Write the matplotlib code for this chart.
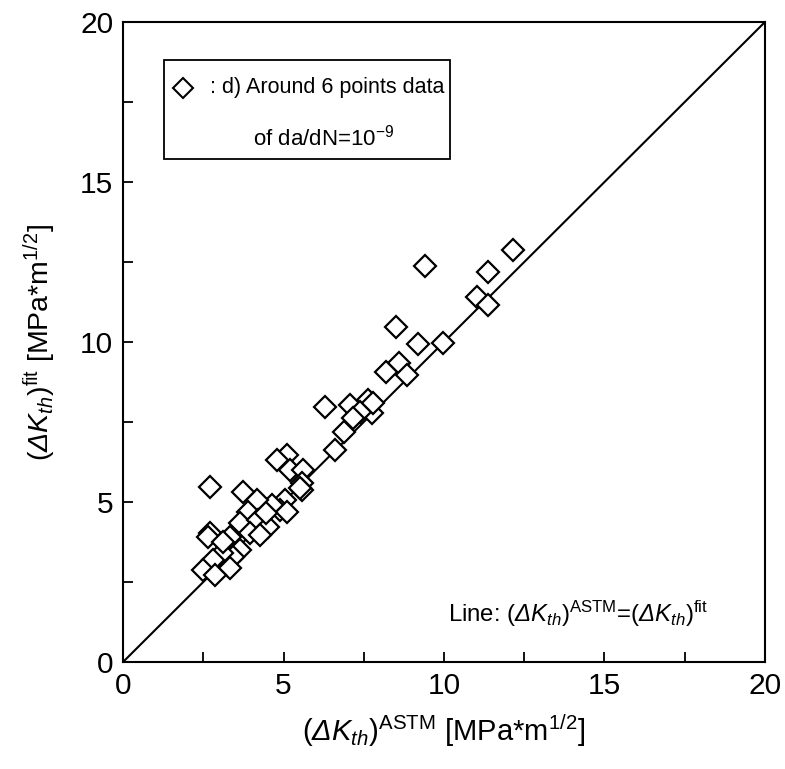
import matplotlib
matplotlib.use("Agg")
import matplotlib.pyplot as plt
from matplotlib.patches import Rectangle

plt.rcParams['font.family'] = ['Liberation Sans', 'DejaVu Sans']
plt.rcParams['mathtext.fontset'] = 'custom'
plt.rcParams['mathtext.rm'] = 'Liberation Sans'
plt.rcParams['mathtext.it'] = 'Liberation Sans:italic'
# sans-serif math slot used for the italic Greek delta
plt.rcParams['mathtext.sf'] = 'Liberation Sans:italic'
plt.rcParams['mathtext.bf'] = 'Liberation Sans:bold'

# Threshold stress intensity ranges [MPa*m^1/2]
dk_astm = [12.15, 11.37, 11.03, 11.37, 9.41, 9.97, 9.19, 8.50, 8.60, 8.85,
           8.19, 7.76, 7.63, 7.07, 7.38, 6.29, 7.17, 6.88, 6.60, 7.80,
           5.11, 4.80, 5.20, 5.60, 5.58, 5.58, 5.05, 4.89, 4.64, 4.17,
           3.74, 2.71, 3.89, 3.64, 4.20, 4.52, 3.96, 4.27, 2.71, 2.65,
           3.33, 3.64, 3.43, 3.08, 2.80, 2.49, 3.33, 2.87, 5.51, 5.11,
           4.45, 3.10]
dk_fit = [12.88, 12.19, 11.41, 11.16, 12.38, 9.97, 9.94, 10.47, 9.34, 8.97,
          9.06, 7.78, 8.19, 8.03, 7.81, 7.97, 7.62, 7.19, 6.63, 8.10,
          6.47, 6.31, 6.00, 6.00, 5.59, 5.37, 5.06, 4.75, 4.90, 5.06,
          5.31, 5.47, 4.69, 4.34, 4.44, 4.22, 4.03, 3.97, 4.03, 3.91,
          3.91, 3.50, 3.28, 3.41, 3.19, 2.88, 2.94, 2.72, 5.44, 4.69,
          4.65, 3.75]

ticks_major = [0, 5, 10, 15, 20]
ticks_minor = [2.5, 7.5, 12.5, 17.5]

DK = r'(\mathsf{\Delta K}_{\mathsf{th}})'

fig = plt.figure(figsize=(7.85, 7.69), dpi=100)
ax = fig.add_axes([0.1567, 0.1391, 0.8178, 0.8323])

ax.plot([0, 20], [0, 20], color='black', lw=1.5, zorder=1)
ax.plot(dk_astm, dk_fit, linestyle='none', marker='D', markersize=11.5,
        markerfacecolor='white', markeredgecolor='black', markeredgewidth=1.6,
        zorder=2)

ax.set_xlim(0, 20)
ax.set_ylim(0, 20)
ax.set_xticks(ticks_major)
ax.set_yticks(ticks_major)
ax.set_xticks(ticks_minor, minor=True)
ax.set_yticks(ticks_minor, minor=True)
ax.tick_params(which='both', direction='in', length=7, width=1.3,
               labelsize=21.5, pad=7, top=False, right=False)
for s in ax.spines.values():
    s.set_linewidth(1.5)

ax.set_xlabel(r'$' + DK + r'^{\mathrm{ASTM}}$ [MPa*m$^{\mathrm{1/2}}$]',
              fontsize=21, labelpad=9)
ax.set_ylabel(r'$' + DK + r'^{\mathrm{fit}}$ [MPa*m$^{\mathrm{1/2}}$]',
              fontsize=20.5, labelpad=16)

# Legend box drawn by hand
ax.add_patch(Rectangle((1.28, 15.72), 8.91, 3.09, facecolor='white',
                       edgecolor='black', lw=1.3, zorder=5))
ax.plot([1.87], [17.94], linestyle='none', marker='D', markersize=10.5,
        markerfacecolor='white', markeredgecolor='black', markeredgewidth=1.5,
        zorder=6)
ax.text(2.71, 17.94, ': d) Around 6 points data', fontsize=15.5, va='center',
        ha='left', zorder=6)
ax.text(6.25, 16.38, r'of da/dN=10$^{\mathrm{-9}}$', fontsize=16,
        va='center', ha='center', zorder=6)

ax.text(10.12, 1.5, r'Line: $' + DK + r'^{\mathrm{ASTM}}$=$' + DK
        + r'^{\mathrm{fit}}$', fontsize=17.2, va='center', ha='left')

fig.savefig('out.png', dpi=100)
